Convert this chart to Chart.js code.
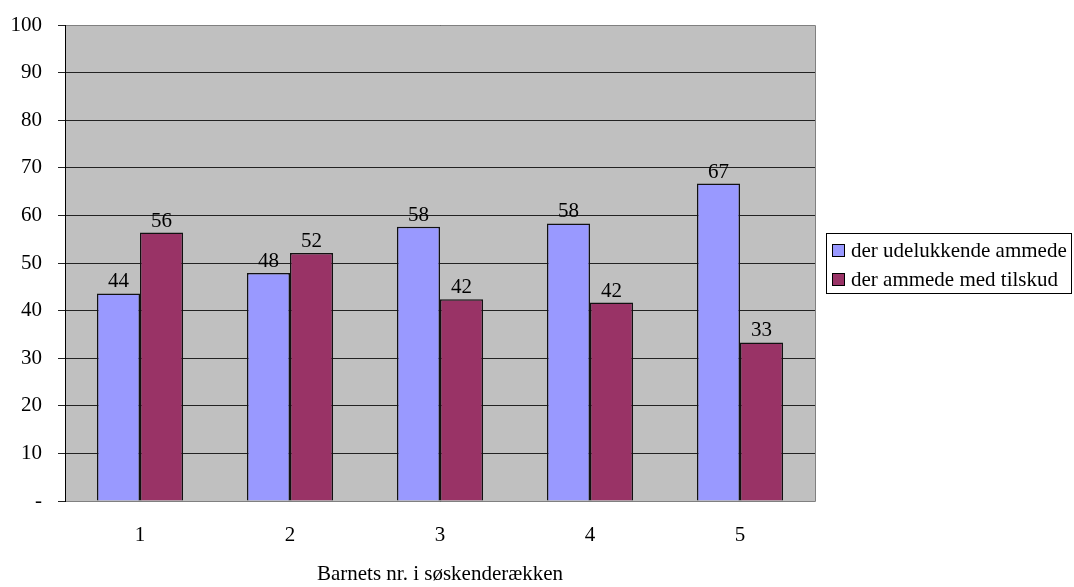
<!DOCTYPE html>
<html>
<head>
<meta charset="utf-8">
<script src="https://cdn.jsdelivr.net/npm/chart.js@4/dist/chart.umd.min.js"></script>
<style>
html,body{margin:0;padding:0;background:#fff;}
#wrap{width:1074px;height:587px;position:relative;}
</style>
</head>
<body>
<div id="wrap"><canvas id="c" width="1074" height="587"></canvas></div>
<script>
const categories = ['1', '2', '3', '4', '5'];
const seriesNames = ['der udelukkende ammede', 'der ammede med tilskud'];
const exclusive = [43.6, 47.9, 57.6, 58.3, 66.7];
const supplement = [56.4, 52.1, 42.4, 41.7, 33.3];
const yTicks = [0, 10, 20, 30, 40, 50, 60, 70, 80, 90, 100];
const xTitle = 'Barnets nr. i søskenderækken';

const FONT = '"Liberation Serif", "Times New Roman", serif';
const FS = 21;

const bgPlugin = {
  id: 'bg',
  beforeDraw(chart) {
    const {ctx, chartArea: a} = chart;
    ctx.save();
    ctx.fillStyle = '#C0C0C0';
    ctx.fillRect(a.left, a.top, a.right - a.left, a.bottom - a.top);
    ctx.restore();
  },
  afterDraw(chart) {
    const {ctx, chartArea: a} = chart;
    ctx.save();
    ctx.strokeStyle = '#808080';
    ctx.lineWidth = 1;
    ctx.beginPath();
    ctx.moveTo(a.left, Math.round(a.top) + 0.5);
    ctx.lineTo(Math.round(a.right) + 0.5, Math.round(a.top) + 0.5);
    ctx.lineTo(Math.round(a.right) + 0.5, Math.round(a.bottom) + 0.5);
    ctx.lineTo(a.left, Math.round(a.bottom) + 0.5);
    ctx.stroke();
    ctx.strokeStyle = '#000';
    ctx.beginPath();
    ctx.moveTo(Math.round(a.left) + 0.5, a.top);
    ctx.lineTo(Math.round(a.left) + 0.5, a.bottom + 1);
    ctx.stroke();
    // data labels
    ctx.fillStyle = '#000';
    ctx.font = FS + 'px ' + FONT;
    ctx.textAlign = 'center';
    ctx.textBaseline = 'alphabetic';
    chart.data.datasets.forEach((ds, i) => {
      const meta = chart.getDatasetMeta(i);
      meta.data.forEach((bar, j) => {
        ctx.fillText(String(Math.round(ds.data[j])), bar.x, bar.y - 6);
      });
    });
    // legend
    const lx = 826.5, ly = 233.5, lw = 245, lh = 60;
    ctx.strokeStyle = '#000';
    ctx.lineWidth = 1;
    ctx.strokeRect(lx, ly, lw, lh);
    ctx.textAlign = 'left';
    chart.data.datasets.forEach((ds, i) => {
      const yy = 244 + i * 29;
      ctx.fillStyle = ds.backgroundColor;
      ctx.fillRect(832, yy, 13, 13);
      ctx.strokeStyle = '#000';
      ctx.strokeRect(832.5, yy + 0.5, 12, 12);
      ctx.fillStyle = '#000';
      ctx.fillText(ds.label, 851, yy + 13);
    });
    ctx.restore();
  }
};

new Chart(document.getElementById('c'), {
  type: 'bar',
  data: {
    labels: categories,
    datasets: [
      {label: seriesNames[0], data: exclusive, backgroundColor: '#9999FF', borderColor: '#111', borderWidth: 1.5},
      {label: seriesNames[1], data: supplement, backgroundColor: '#993366', borderColor: '#111', borderWidth: 1.5}
    ]
  },
  options: {
    responsive: false,
    animation: false,
    devicePixelRatio: 1,
    layout: {padding: {left: 0, top: 25, right: 259, bottom: 0}},
    datasets: {bar: {categoryPercentage: 0.574, barPercentage: 1}},
    plugins: {legend: {display: false}, tooltip: {enabled: false}},
    scales: {
      x: {
        grid: {display: false},
        border: {display: false},
        ticks: {color: '#000', font: {family: FONT, size: FS}, padding: 14},
        title: {display: true, text: xTitle, color: '#000', font: {family: FONT, size: FS}, padding: {top: 20, bottom: 0}},
        afterFit(s) { s.height = 86; s.paddingLeft = 0; s.paddingRight = 0; }
      },
      y: {
        min: 0, max: 100,
        afterBuildTicks(s) { s.ticks = yTicks.map(v => ({value: v})); },
        grid: {color: '#222', lineWidth: 1, tickLength: 7, drawTicks: true},
        border: {display: false},
        ticks: {color: '#000', font: {family: FONT, size: FS}, padding: 16,
          callback: v => v === 0 ? '-' : String(v)},
        afterFit(s) { s.width = 65; s.paddingTop = 0; s.paddingBottom = 0; }
      }
    }
  },
  plugins: [bgPlugin]
});
</script>
</body>
</html>
